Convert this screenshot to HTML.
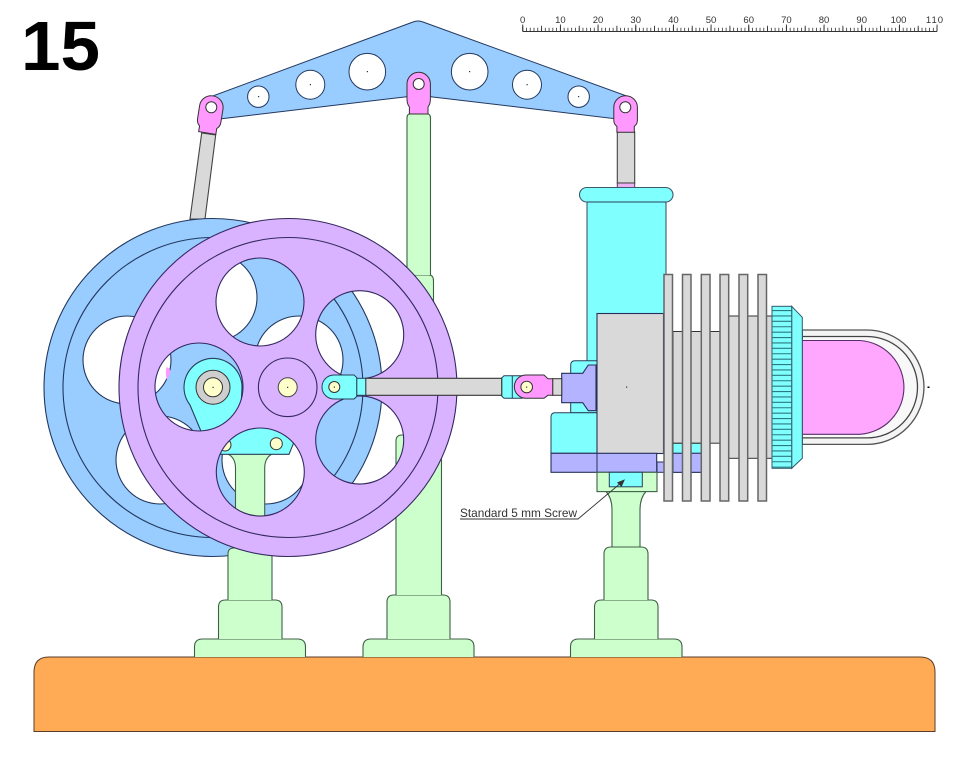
<!DOCTYPE html>
<html><head><meta charset="utf-8"><style>
html,body{margin:0;padding:0;background:#fff}
svg{display:block}
text{font-family:"Liberation Sans",sans-serif}
</style></head><body>
<svg width="978" height="768" viewBox="0 0 978 768" xmlns="http://www.w3.org/2000/svg">
<rect width="978" height="768" fill="#fff"/>
<text x="21" y="70" font-size="70" font-weight="bold" fill="#000" textLength="79" lengthAdjust="spacingAndGlyphs">15</text>

<!-- ruler -->
<g fill="none" stroke="#333">
<line x1="522.7" y1="31.5" x2="937" y2="31.5" stroke-width="1"/>
<line x1="522.3" y1="29.5" x2="937.5" y2="29.5" stroke-width="3.5" stroke-dasharray="0.8 2.967"/>
<line x1="522.3" y1="28.5" x2="937.5" y2="28.5" stroke-width="5.5" stroke-dasharray="0.9 17.93"/>
<line x1="522.3" y1="28" x2="937.5" y2="28" stroke-width="7" stroke-dasharray="0.9 36.77"/>
</g>
<g font-size="9.5" fill="#333" text-anchor="middle">
<text x="522.7" y="23">0</text><text x="560.4" y="23">10</text><text x="598" y="23">20</text><text x="635.7" y="23">30</text><text x="673.4" y="23">40</text><text x="711" y="23">50</text><text x="748.7" y="23">60</text><text x="786.4" y="23">70</text><text x="824" y="23">80</text><text x="861.7" y="23">90</text><text x="898.5" y="23">100</text><text x="935" y="23" letter-spacing="1">110</text>
</g>

<!-- base -->
<path d="M34,731.5 V672 Q34,657 49,657 H920 Q935,657 935,672 V731.5 Z" fill="#ffaa55" stroke="#5a3e2a"/>

<!-- left post base parts -->
<g fill="#ccffcc" stroke="#3f5f48" stroke-width="1.1">
<path d="M194.5,657 V647 Q194.5,639 202.5,639 H297.5 Q305.5,639 305.5,647 V657"/>
<path d="M218.5,639 V607 Q218.5,600 225.5,600 H275 Q282,600 282,607 V639"/>
<!-- middle post -->
<path d="M363,657 V647 Q363,639 371,639 H466 Q474,639 474,647 V657"/>
<path d="M387,639 V602 Q387,595 394,595 H443 Q450,595 450,602 V639"/>
<path d="M396,595 V441 Q396,435 402,435 H441.500 V595"/>
<path d="M404,435 V281 Q404,275 410,275 H429 Q433.500,275 433.500,281 V435" />
<path d="M407,275 V118 Q407,113.500 411,113.500 H426 Q430.500,113.500 430.500,118 V275"/>
<!-- right post -->
<path d="M570.500,657 V647 Q570.500,639 578.500,639 H674 Q682,639 682,647 V657"/>
<path d="M594.500,639 V607 Q594.500,600 601.500,600 H651 Q658,600 658,607 V639"/>
<path d="M604,600 V554 Q604,547 611,547 H641 Q648,547 648,554 V600"/>
<path d="M612,547 V510 Q612,498 606,491.500 H646 Q640,498 640,510 V547 Z"/>
</g>

<!-- beam -->
<path fill-rule="evenodd" d="M221.700,118.700 L406.700,96.700 L430.700,96.700 L615,118.700 L626.700,96 L423,22 Q418,20 413,22 L210,97 Z
M247.600,96.700 a10.700,10.700 0 1 0 21.400,0 a10.700,10.700 0 1 0 -21.400,0 Z
M295.800,84.700 a14.500,14.500 0 1 0 29,0 a14.500,14.500 0 1 0 -29,0 Z
M349,71.700 a18.300,18.300 0 1 0 36.600,0 a18.300,18.300 0 1 0 -36.600,0 Z
M451.400,71.700 a18.300,18.300 0 1 0 36.600,0 a18.300,18.300 0 1 0 -36.600,0 Z
M512.500,84.700 a14.500,14.500 0 1 0 29,0 a14.500,14.500 0 1 0 -29,0 Z
M568,96.700 a10.700,10.700 0 1 0 21.400,0 a10.700,10.700 0 1 0 -21.400,0 Z" fill="#99ccff" stroke="#22385e" stroke-width="1"/>

<!-- rods -->
<path d="M201.700,133 L215.700,135 L205,219 L190,219 Z" fill="#d9d9d9" stroke="#444" stroke-width="1.100"/>
<rect x="617.300" y="132" width="17.400" height="51" fill="#d9d9d9" stroke="#444" stroke-width="1.100"/>
<rect x="617.300" y="183" width="17.400" height="5" fill="#f0b0f5" stroke="#444" stroke-width="1"/>

<!-- clevises -->
<g fill="#ff99ff" stroke="#333" stroke-width="1">
<path transform="translate(211.300,107.300) rotate(9)" d="M-8.700,26 V20 Q-11.800,18 -11.800,13 V0 A11.800,11.500 0 0 1 11.800,0 V13 Q11.800,18 8.700,20 V26 Z"/>
<path transform="translate(418.700,84)" d="M-9.300,30 V23 Q-11.700,20 -11.700,15 V0 A11.700,11.700 0 0 1 11.700,0 V15 Q11.700,20 9.300,23 V30 Z"/>
<path transform="translate(625.600,107.300)" d="M-8.700,25 V19 Q-11.800,17 -11.800,13 V0 A11.800,11.500 0 0 1 11.800,0 V13 Q11.800,17 8.700,19 V25 Z"/>
</g>
<g fill="#fff" stroke="#333" stroke-width="1">
<circle cx="211.300" cy="107.300" r="5.500"/><circle cx="418.700" cy="84" r="5.500"/><circle cx="625.300" cy="107.300" r="5.500"/>
</g>

<!-- cylinder -->
<rect x="587" y="195" width="79" height="170" fill="#80ffff" stroke="#3c5a6a" stroke-width="1.100"/>
<rect x="579.500" y="187.500" width="93.500" height="14.500" rx="7.200" fill="#80ffff" stroke="#3c5a6a" stroke-width="1.100"/>
<line x1="587" y1="202" x2="666" y2="202" stroke="#26405a"/>
<path d="M597,412.700 H570.700 V365 Q570.700,360.700 575,360.700 H597 Z" fill="#80ffff" stroke="#26405a"/>
<path d="M551,453.300 V417 Q551,412.700 555,412.700 H597 V453.300 Z" fill="#80ffff" stroke="#26405a"/>

<!-- finned body -->
<rect x="673" y="331.500" width="47" height="111.700" fill="#d9d9d9" stroke="#333"/>
<rect x="720" y="316" width="52" height="142.300" fill="#d9d9d9" stroke="#333"/>
<rect x="673" y="443.300" width="28.500" height="10" fill="#80ffff" stroke="#333"/>
<rect x="597" y="313.500" width="66.500" height="140" fill="#d9d9d9" stroke="#26305a" stroke-width="1.100"/>
<rect x="657" y="462" width="44.500" height="10.300" fill="#b3b3ff" stroke="#26305a"/>
<rect x="673" y="453.300" width="28.500" height="19" fill="#b3b3ff" stroke="#26305a"/>
<rect x="551" y="453.300" width="105.700" height="19" fill="#b3b3ff" stroke="#26305a" stroke-width="1.100"/>
<line x1="597" y1="453.300" x2="597" y2="472.300" stroke="#26305a"/>
<rect x="597" y="472.300" width="60" height="19.300" fill="#ccffcc" stroke="#3f5f48" stroke-width="1.100"/>
<rect x="609.300" y="472.300" width="33" height="14.500" fill="#80ffff" stroke="#26405a"/>
<g fill="#d9d9d9" stroke="#666" stroke-width="1.500">
<rect x="664" y="274.500" width="8.500" height="226.500"/>
<rect x="682.500" y="274.500" width="8.500" height="226.500"/>
<rect x="701.300" y="274.500" width="8.700" height="226.500"/>
<rect x="720" y="274.500" width="8.700" height="226.500"/>
<rect x="739" y="274.500" width="8.700" height="226.500"/>
<rect x="758" y="274.500" width="8.500" height="226.500"/>
</g>

<!-- glass dome -->
<path d="M802.300,330 H867 A57,57.200 0 0 1 867,444.400 H802.300 Z" fill="#f4f4f4" stroke="#555" stroke-width="1.300"/>
<path d="M802.300,336.500 H867 A50.500,50.700 0 0 1 867,437.900 H802.300 Z" fill="#f8f8f8" stroke="#444" stroke-width="1.300"/>
<path d="M802.300,340.500 H860 A47,47 0 0 1 860,434.300 H802.300 Z" fill="#ffa6ff" stroke="#5a2a6a" stroke-width="1.100"/>
<rect x="927.500" y="386.500" width="2" height="1.500" fill="#000"/>

<!-- nut -->
<path d="M791.700,306.300 L802.300,317.300 V458.300 L791.700,468.300 Z" fill="#80ffff" stroke="#2f5a6a"/>
<rect x="772" y="306.300" width="19.700" height="162" fill="#80ffff" stroke="#2f5a6a"/>
<line x1="781.800" y1="310" x2="781.800" y2="468" stroke="#2a7a80" stroke-width="19.600" stroke-dasharray="1.100 4.300"/>

<!-- piston / connecting rod right -->
<path d="M561.700,373.300 H582.700 L588.300,365 H596 V410.700 H588.300 L582.700,402.700 H561.700 Z" fill="#b3b3ff" stroke="#26305a" stroke-width="1.100"/>
<rect x="552.700" y="378.700" width="9" height="16.600" fill="#d9d9d9" stroke="#333"/>
<path d="M501.700,378 L504,375.700 H522 V398.300 H504 L501.700,396 Z" fill="#80ffff" stroke="#26405a"/>
<line x1="512.300" y1="375.700" x2="512.300" y2="398.300" stroke="#26405a"/>
<path d="M526,375 H544 L548,378.700 H552.700 V395.300 H548 L544,398.300 H526 A11.600,11.600 0 0 1 526,375 Z" fill="#ff99ff" stroke="#333"/>
<circle cx="526.700" cy="387" r="5.800" fill="#ffffcc" stroke="#333"/>

<!-- back wheel -->
<path fill-rule="evenodd" d="M44,387.500 a169,169 0 1 0 338,0 a169,169 0 1 0 -338,0 Z
M169,297.500 a44,44 0 1 0 88,0 a44,44 0 1 0 -88,0 Z
M255,360 a44,44 0 1 0 88,0 a44,44 0 1 0 -88,0 Z
M222,460 a44,44 0 1 0 88,0 a44,44 0 1 0 -88,0 Z
M116,460 a44,44 0 1 0 88,0 a44,44 0 1 0 -88,0 Z
M83,360 a44,44 0 1 0 88,0 a44,44 0 1 0 -88,0 Z" fill="#99ccff" stroke="#22385e" stroke-width="1.100"/>
<circle cx="213" cy="387.500" r="150" fill="none" stroke="#22385e" stroke-width="1.100"/>
<path d="M166.500,367 Q170,368 170.500,372 L167,380 Q165,374 166.500,367 Z" fill="#ff99ff"/>

<!-- post T in front of back wheel -->
<g fill="#ccffcc" stroke="#3f5f48" stroke-width="1.100">
<path d="M228,600 V554 Q228,548 234,548 H266 Q272,548 272,554 V600"/>
<path d="M235.500,530 V468 Q235.500,458 228,454 H272 Q264.700,458 264.700,468 V530 Z"/>
</g>
<path d="M220.700,454.300 H289 L293.500,443.300 L283,424 H232 L220,440 Z" fill="#80ffff" stroke="#26405a" stroke-width="1.100"/>
<circle cx="225" cy="445" r="6" fill="#ffffcc" stroke="#333"/>
<circle cx="276.300" cy="443.700" r="6" fill="#ffffcc" stroke="#333"/>

<!-- crank -->
<path d="M190,405 L203,436 L240,430 L242,387 A29,29 0 1 0 190,405 Z" fill="#80ffff" stroke="#26405a" stroke-width="1.100"/>
<circle cx="213" cy="387.300" r="17" fill="#cfcfcf" stroke="#333"/>
<circle cx="213" cy="387.300" r="9.500" fill="#ffffcc" stroke="#333"/>

<!-- front wheel -->
<path fill-rule="evenodd" d="M119,387.500 a169,169 0 1 0 338,0 a169,169 0 1 0 -338,0 Z
M216,302 a44,44 0 1 0 88,0 a44,44 0 1 0 -88,0 Z
M315.700,334.700 a44,44 0 1 0 88,0 a44,44 0 1 0 -88,0 Z
M315.700,440 a44,44 0 1 0 88,0 a44,44 0 1 0 -88,0 Z
M216.300,472 a44,44 0 1 0 88,0 a44,44 0 1 0 -88,0 Z
M155,387 a44,44 0 1 0 88,0 a44,44 0 1 0 -88,0 Z" fill="#d9b3ff" stroke="#35285f" stroke-width="1.100"/>
<path d="M138,387.500 a150,150 0 1 0 300,0 a150,150 0 1 0 -300,0 Z" fill="none" stroke="#35285f" stroke-width="1.100"/>
<circle cx="287.700" cy="387.300" r="29.300" fill="none" stroke="#35285f" stroke-width="1.100"/>
<circle cx="287.700" cy="387.300" r="9.500" fill="#ffffcc" stroke="#444"/>

<!-- connecting rod -->
<rect x="365.700" y="378.300" width="136" height="17" fill="#d9d9d9" stroke="#333" stroke-width="1.100"/>
<rect x="356.700" y="378.300" width="9" height="17" fill="#80ffff" stroke="#26405a"/>
<path d="M334,375 H354 L356.700,377.500 V396.500 L354,399 H334 A12,12 0 0 1 334,375 Z" fill="#80ffff" stroke="#26405a"/>
<circle cx="334.300" cy="387" r="5.500" fill="#ffffcc" stroke="#333"/>

<!-- label -->
<text x="460" y="517" font-size="12" fill="#333" textLength="117" lengthAdjust="spacingAndGlyphs">Standard 5 mm Screw</text>
<path d="M460,519 H578 L622,482" fill="none" stroke="#333" stroke-width="0.900"/>
<path d="M625,479.300 L617,482.500 L621.500,487 Z" fill="#333"/>

<!-- center marks -->
<g fill="#333">
<rect x="626" y="386.500" width="1.200" height="1.200"/><rect x="366.800" y="71" width="1.200" height="1.200"/><rect x="469" y="71" width="1.200" height="1.200"/><rect x="309.800" y="84" width="1.200" height="1.200"/><rect x="526.500" y="84" width="1.200" height="1.200"/><rect x="258" y="96" width="1.200" height="1.200"/><rect x="578" y="96" width="1.200" height="1.200"/><rect x="287" y="386.800" width="1.200" height="1.200"/><rect x="212.500" y="386.800" width="1.200" height="1.200"/><rect x="333.800" y="386.500" width="1.200" height="1.200"/><rect x="526" y="386.500" width="1.200" height="1.200"/>
</g>
</svg>
</body></html>
